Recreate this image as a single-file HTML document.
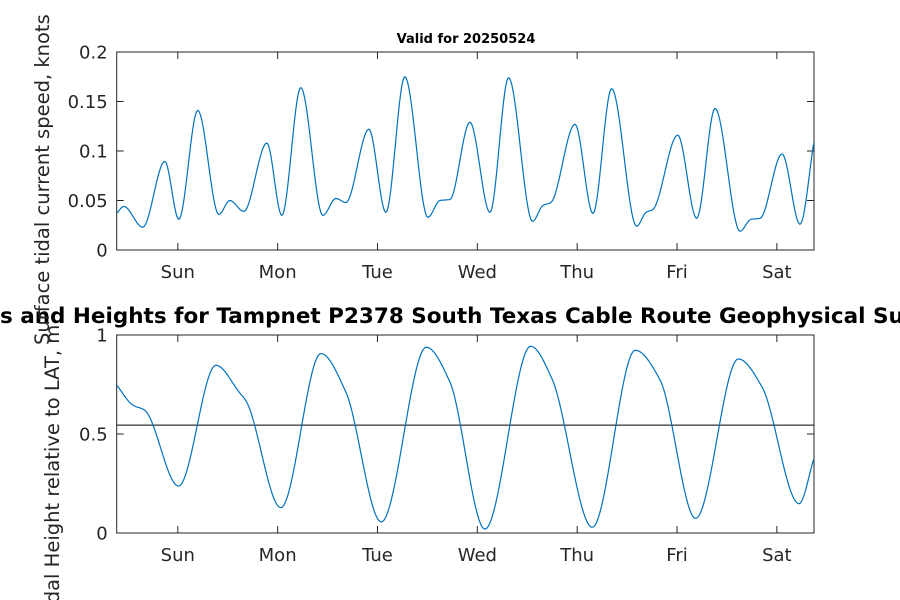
<!DOCTYPE html>
<html><head><meta charset="utf-8"><style>
html,body{margin:0;padding:0;background:#fff;}
svg{display:block;font-family:"DejaVu Sans","Liberation Sans",sans-serif;}
</style></head><body>
<svg id="chart" width="900" height="600" viewBox="0 0 900 600">
<rect width="900" height="600" fill="#fff"/>
<g id="top"></g>
<g id="bot"></g>
<text x="466" y="43" text-anchor="middle" font-size="13" font-weight="bold" fill="#000">Valid for 20250524</text>
<text id="bigtitle" x="0" y="323" font-size="21.5" font-weight="bold" fill="#000">Tidal Currents and Heights for Tampnet P2378 South Texas Cable Route Geophysical Survey</text>
<text transform="translate(49,345) rotate(-90)" font-size="19.5" fill="#262626">Surface tidal current speed, knots</text>
<text transform="translate(59,620) rotate(-90)" font-size="19.5" fill="#262626">Tidal Height relative to LAT, m</text>
</svg>
<script>
// x ticks (days relative to Sunday tick)
const dayLabels = ["Sun","Mon","Tue","Wed","Thu","Fri","Sat"];
const dayTicks = [0,1,2,3,4,5,6];
const xMin = -0.612, xMax = 6.372;
// current speed keypoints (days, knots)
const speedT = [-0.612,-0.541,-0.351,-0.13,0.01,0.2,0.411,0.521,0.661,0.892,1.042,1.232,1.453,1.583,1.683,1.914,2.084,2.274,2.505,2.625,2.725,2.926,3.126,3.313,3.553,3.657,3.737,3.978,4.158,4.345,4.596,4.689,4.759,5.007,5.197,5.381,5.631,5.741,5.832,6.052,6.232,6.372];
const speedV = [0.037,0.044,0.023,0.0895,0.031,0.141,0.036,0.050,0.039,0.108,0.035,0.164,0.035,0.052,0.048,0.122,0.038,0.175,0.033,0.050,0.051,0.129,0.038,0.174,0.029,0.045,0.048,0.127,0.037,0.163,0.024,0.038,0.041,0.116,0.032,0.143,0.019,0.031,0.032,0.097,0.026,0.110];
const speedTicks = [0,0.05,0.1,0.15,0.2];
const speedTickLabels = ["0","0.05","0.1","0.15","0.2"];
// tidal height keypoints (days, m)
const heightT = [-0.612,-0.451,-0.331,0.007,0.381,0.621,0.691,1.032,1.433,1.683,2.038,2.489,2.725,3.076,3.534,3.747,4.151,4.582,4.83,5.187,5.614,5.852,6.222,6.372];
const heightV = [0.747,0.646,0.62,0.237,0.847,0.707,0.66,0.128,0.906,0.712,0.056,0.938,0.763,0.02,0.943,0.78,0.029,0.923,0.773,0.074,0.879,0.737,0.148,0.377];
const heightTicks = [0,0.5,1];
const heightTickLabels = ["0","0.5","1"];
const refLevel = [0.545];

const NS="http://www.w3.org/2000/svg";
function mk(tag,attrs,parent){const e=document.createElementNS(NS,tag);for(const k in attrs)e.setAttribute(k,attrs[k]);parent.appendChild(e);return e;}
const L=116.7,R=814;
function xs(t){return L+(t-xMin)/(xMax-xMin)*(R-L);}
function monotone(xa,ya){
  const n=xa.length,d=[],m=new Array(n);
  for(let i=0;i<n-1;i++)d.push((ya[i+1]-ya[i])/(xa[i+1]-xa[i]));
  m[0]=d[0];m[n-1]=d[n-2];
  for(let i=1;i<n-1;i++){m[i]=(d[i-1]*d[i]<=0)?0:(2/(1/d[i-1]+1/d[i]))*1;}
  return function(x){let i=0;while(i<n-2&&x>xa[i+1])i++;const h=xa[i+1]-xa[i],s=(x-xa[i])/h;
    const h00=2*s*s*s-3*s*s+1,h10=s*s*s-2*s*s+s,h01=-2*s*s*s+3*s*s,h11=s*s*s-s*s;
    return h00*ya[i]+h10*h*m[i]+h01*ya[i+1]+h11*h*m[i+1];};
}
function panel(g,top,bot,ymax,T,V,ticks,labels,name,ref){
  const ys=v=>bot-(v/ymax)*(bot-top);
  // axes box
  const box=mk('rect',{x:L,y:top,width:R-L,height:bot-top,fill:'none',stroke:'#262626','stroke-width':1},g);
  
  
  ticks.forEach((v,i)=>{
    const y=ys(v);
    const tl=mk('path',{d:`M${L} ${y}h7M${R} ${y}h-7`,stroke:'#262626','stroke-width':1},g);
    
    
    const tx=mk('text',{x:L-9,y:y+6.5,'text-anchor':'end','font-size':18,fill:'#262626'},g);
    tx.textContent=labels[i];
    
    
  });
  dayTicks.forEach((d,i)=>{
    const x=xs(d);
    const tl=mk('path',{d:`M${x} ${bot}v-7M${x} ${top}v7`,stroke:'#262626','stroke-width':1},g);
    
    
    const tx=mk('text',{x:x,y:bot+28,'text-anchor':'middle','font-size':18,fill:'#262626'},g);
    tx.textContent=dayLabels[i];
    
    
  });
  if(ref){
    const rl=mk('line',{x1:L,x2:R,y1:ys(ref[0]),y2:ys(ref[0]),stroke:'#000','stroke-width':1},g);
    
    
  }
  const f=monotone(T,V);let d='';
  for(let px=L;px<=R+0.01;px+=1){const t=xMin+(px-L)/(R-L)*(xMax-xMin);d+=(d?'L':'M')+px.toFixed(1)+' '+ys(f(t)).toFixed(2);}
  const p=mk('path',{d:d,fill:'none',stroke:'#0072BD','stroke-width':1.2},g);
  
  
}
panel(document.getElementById('top'),52,250,0.2,speedT,speedV,speedTicks,speedTickLabels,'speed',null);
panel(document.getElementById('bot'),335,533,1,heightT,heightV,heightTicks,heightTickLabels,'height',refLevel);
const bt=document.getElementById('bigtitle');
try{const w=bt.getSubStringLength(0,13);bt.setAttribute('x',(-w).toFixed(1));}catch(e){bt.setAttribute('x','-150');}
</script>
</body></html>
